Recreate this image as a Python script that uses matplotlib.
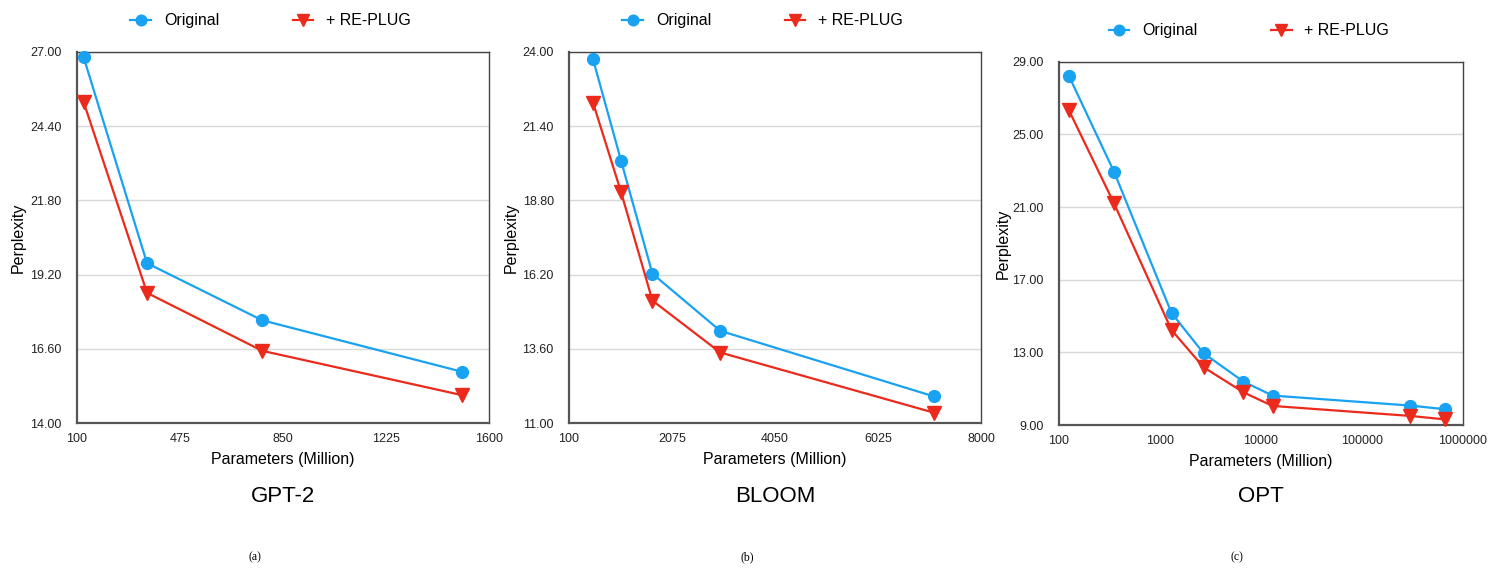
import numpy as np
import matplotlib
matplotlib.use('Agg')
import matplotlib.pyplot as plt
from matplotlib.ticker import FixedLocator, FuncFormatter

# Data (perplexity)
gpt2_params = [124, 355, 774, 1500]
gpt2_orig = [26.82, 19.60, 17.60, 15.80]
gpt2_plug = [25.25, 18.56, 16.53, 14.98]

bloom_params = [560, 1100, 1700, 3000, 7100]
bloom_orig = [23.75, 20.18, 16.23, 14.23, 11.93]
bloom_plug = [22.23, 19.08, 15.29, 13.47, 11.36]

opt_params = [125, 350, 1300, 2700, 6700, 13000, 300000, 660000]
opt_orig = [28.23, 22.95, 15.17, 12.95, 11.39, 10.62, 10.07, 9.87]
opt_plug = [26.34, 21.21, 14.23, 12.18, 10.80, 10.05, 9.50, 9.31]

titles = ['GPT-2', 'BLOOM', 'OPT']
captions = ['(a)', '(b)', '(c)']

blue = '#19a2f2'
red = '#ec2a1c'
font = 'Liberation Sans'

plt.rcParams['font.family'] = font

fig = plt.figure(figsize=(14.97, 5.78), dpi=100, facecolor='white')

axes_pos = [
    [77 / 1497, 155 / 578, 412 / 1497, 371 / 578],
    [569 / 1497, 155 / 578, 412 / 1497, 371 / 578],
    [1059 / 1497, 153 / 578, 404 / 1497, 363.3 / 578],
]

panels = [
    (gpt2_params, gpt2_orig, gpt2_plug, (100, 1600), [100, 475, 850, 1225, 1600], (14, 27), np.linspace(14, 27, 6), False),
    (bloom_params, bloom_orig, bloom_plug, (100, 8000), [100, 2075, 4050, 6025, 8000], (11, 24), np.linspace(11, 24, 6), False),
    (opt_params, opt_orig, opt_plug, (100, 1000000), [100, 1000, 10000, 100000, 1000000], (9, 29), np.linspace(9, 29, 6), True),
]

caption_x = [255, 747, 1237]
ylabel_x = [26, 519, 1011]

for i, (xs, yo, yp, xlim, xticks, ylim, yticks, logx) in enumerate(panels):
    ax = fig.add_axes(axes_pos[i])
    if logx:
        ax.set_xscale('log')
    ax.plot(xs, yo, color=blue, marker='o', markersize=8.5, linewidth=1.6,
            label='Original', zorder=3, clip_on=False)
    ax.plot(xs, yp, color=red, marker='v', markersize=9.5, linewidth=1.6,
            label='+ RE-PLUG', zorder=3, clip_on=False)
    ax.set_xlim(*xlim)
    ax.set_ylim(*ylim)
    ax.xaxis.set_major_locator(FixedLocator(xticks))
    ax.xaxis.set_minor_locator(FixedLocator([]))
    ax.xaxis.set_major_formatter(FuncFormatter(lambda v, p: '%d' % round(v)))
    ax.yaxis.set_major_locator(FixedLocator(yticks))
    ax.yaxis.set_major_formatter(FuncFormatter(lambda v, p: '%.2f' % v))
    ax.grid(axis='y', color='#d8d8d8', linewidth=1.0)
    ax.set_axisbelow(True)
    ax.tick_params(length=0, labelsize=9, colors='#222222')
    ax.tick_params(axis='x', pad=7)
    ax.tick_params(axis='y', pad=11)
    for s in ['left', 'bottom']:
        ax.spines[s].set_color('#555555')
        ax.spines[s].set_linewidth(1.6)
    for s in ['top', 'right']:
        ax.spines[s].set_color('#444444')
        ax.spines[s].set_linewidth(1.0)
    ax.set_ylabel('Perplexity', fontsize=11.5)
    w = axes_pos[i][2] * 1497
    ax.yaxis.set_label_coords((ylabel_x[i] - axes_pos[i][0] * 1497) / w, 0.5)
    ax.set_xlabel('Parameters (Million)', fontsize=11.5, labelpad=5)
    ax.legend(loc='lower center', bbox_to_anchor=(0.47, 1.025), ncol=2,
              frameon=False, fontsize=11.5, handlelength=1.3,
              columnspacing=4.6, handletextpad=0.8, markerscale=0.9)
    ax.text(0.5, -0.197, titles[i], transform=ax.transAxes, ha='center',
            va='center', fontsize=16)
    fig.text(caption_x[i] / 1497, 1 - 557 / 578, captions[i], ha='center',
             va='center', fontsize=8.5, family='Liberation Serif')

fig.savefig('out.png', dpi=100, facecolor='white')
